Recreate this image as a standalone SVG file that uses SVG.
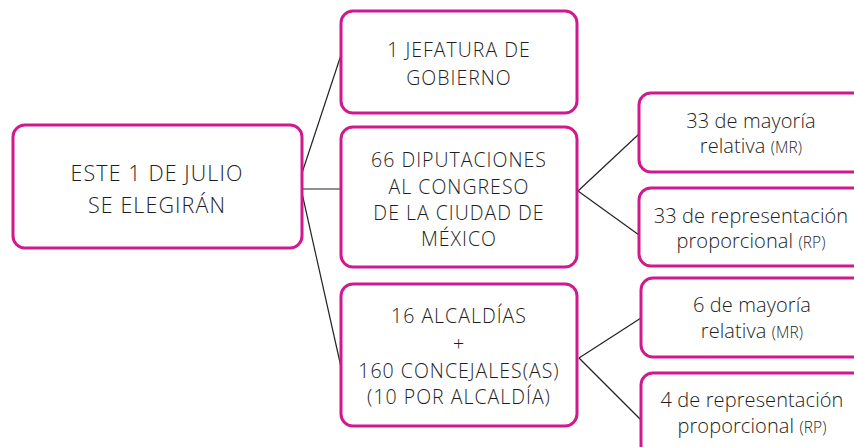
<svg xmlns="http://www.w3.org/2000/svg" width="854" height="447" viewBox="0 0 854 447">
<style>
.box{fill:#fff;stroke:#d0198e;stroke-width:3}
.t{font-family:"Open Sans",Lato,"Liberation Sans",sans-serif;font-size:19.5px;font-weight:300;fill:#1e1e1e;text-anchor:middle;letter-spacing:1px}
.m{font-size:21.5px;letter-spacing:1.1px}
.l{font-size:20px;letter-spacing:0.1px}
.sc{font-size:15.5px}
.c{stroke:#222;stroke-width:1.2;fill:none}
</style>
<rect width="854" height="447" fill="#fff"/>
<g id="connectors">
<line class="c" x1="302" y1="173" x2="341" y2="55"/>
<line class="c" x1="302" y1="189" x2="341" y2="189"/>
<line class="c" x1="302" y1="193" x2="341" y2="367"/>
<line class="c" x1="578" y1="191" x2="639" y2="134"/>
<line class="c" x1="578" y1="191" x2="639" y2="235"/>
<line class="c" x1="579" y1="358" x2="641" y2="318"/>
<line class="c" x1="579" y1="358" x2="641" y2="420"/>
</g>
<g id="main">
<rect class="box" x="13" y="125" width="289" height="123" rx="12"/>
<text class="t m" x="157" y="181">ESTE 1 DE JULIO</text>
<text class="t m" x="157" y="213">SE ELEGIRÁN</text>
</g>
<g id="jefatura">
<rect class="box" x="341" y="11" width="236" height="102" rx="12"/>
<text class="t" x="459" y="57">1 JEFATURA DE</text>
<text class="t" x="459" y="85">GOBIERNO</text>
</g>
<g id="diputaciones">
<rect class="box" x="341" y="127" width="236" height="140" rx="12"/>
<text class="t" x="459" y="167">66 DIPUTACIONES</text>
<text class="t" x="459" y="194">AL CONGRESO</text>
<text class="t" x="459" y="220">DE LA CIUDAD DE</text>
<text class="t" x="459" y="246">MÉXICO</text>
</g>
<g id="alcaldias">
<rect class="box" x="341" y="284" width="236" height="142" rx="12"/>
<text class="t" x="459" y="323">16 ALCALDÍAS</text>
<text class="t" x="459" y="351">+</text>
<text class="t" x="459" y="378">160 CONCEJALES(AS)</text>
<text class="t" x="459" y="404">(10 POR ALCALDÍA)</text>
</g>
<g id="dip-mr">
<rect class="box" x="639" y="93" width="240" height="79" rx="12"/>
<text class="t l" x="751" y="128">33 de mayoría</text>
<text class="t l" x="751" y="153">relativa <tspan class="sc">(MR)</tspan></text>
</g>
<g id="dip-rp">
<rect class="box" x="639" y="188" width="240" height="78" rx="12"/>
<text class="t l" x="751" y="223">33 de representación</text>
<text class="t l" x="751" y="248">proporcional <tspan class="sc">(RP)</tspan></text>
</g>
<g id="alc-mr">
<rect class="box" x="641" y="278" width="240" height="79" rx="12"/>
<text class="t l" x="752" y="312">6 de mayoría</text>
<text class="t l" x="752" y="338">relativa <tspan class="sc">(MR)</tspan></text>
</g>
<g id="alc-rp">
<rect class="box" x="641" y="373" width="240" height="90" rx="12"/>
<text class="t l" x="752" y="407">4 de representación</text>
<text class="t l" x="752" y="433">proporcional <tspan class="sc">(RP)</tspan></text>
</g>
</svg>
